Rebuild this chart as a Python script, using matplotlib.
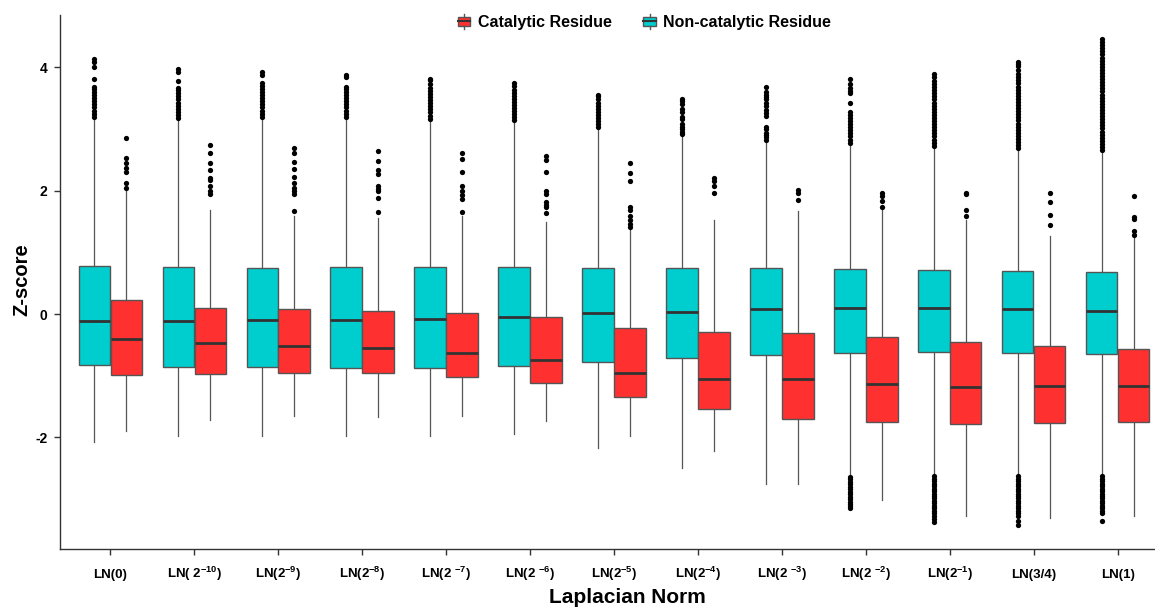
import matplotlib
matplotlib.use('Agg')
import matplotlib.pyplot as plt
from matplotlib.legend_handler import HandlerBase
from matplotlib.patches import Patch, Rectangle
from matplotlib.lines import Line2D

plt.rcParams['font.family'] = ['Liberation Sans', 'DejaVu Sans']
plt.rcParams['font.weight'] = 'bold'
plt.rcParams['mathtext.fontset'] = 'custom'
plt.rcParams['mathtext.rm'] = 'Liberation Sans:bold'
plt.rcParams['mathtext.bf'] = 'Liberation Sans:bold'
plt.rcParams['mathtext.default'] = 'bf'
plt.rcParams['axes.unicode_minus'] = False

# Data
labels = ['LN(0)', 'LN( 2$^{-10}$)', 'LN(2$^{-9}$)', 'LN(2$^{-8}$)', 'LN(2 $^{-7}$)',
          'LN(2 $^{-6}$)', 'LN(2$^{-5}$)', 'LN(2$^{-4}$)', 'LN(2 $^{-3}$)', 'LN(2 $^{-2}$)',
          'LN(2$^{-1}$)', 'LN(3/4)', 'LN(1)']

# non-catalytic residue (cyan)
nc_q3 = [0.78, 0.76, 0.75, 0.76, 0.76, 0.76, 0.75, 0.74, 0.74, 0.73, 0.72, 0.70, 0.69]
nc_med = [-0.12, -0.11, -0.10, -0.09, -0.08, -0.05, 0.01, 0.04, 0.08, 0.10, 0.10, 0.08, 0.05]
nc_q1 = [-0.82, -0.86, -0.86, -0.87, -0.87, -0.85, -0.77, -0.71, -0.66, -0.63, -0.62, -0.63, -0.64]
nc_lo = [-2.07, -1.98, -1.97, -1.98, -1.97, -1.95, -2.18, -2.49, -2.75, -2.60, -2.60, -2.60, -2.60]
nc_hi = [3.16, 3.14, 3.16, 3.16, 3.14, 3.11, 3.00, 2.89, 2.81, 2.75, 2.71, 2.67, 2.64]
nc_out = [
    [3.20, 3.25, 3.30, 3.35, 3.40, 3.45, 3.50, 3.55, 3.60, 3.65, 3.68, 3.82, 4.00, 4.09, 4.13],
    [3.18, 3.23, 3.28, 3.33, 3.38, 3.43, 3.48, 3.53, 3.58, 3.63, 3.67, 3.78, 3.92, 3.97],
    [3.20, 3.25, 3.30, 3.35, 3.40, 3.45, 3.50, 3.55, 3.60, 3.65, 3.70, 3.75, 3.88, 3.93],
    [3.20, 3.25, 3.30, 3.35, 3.40, 3.45, 3.50, 3.55, 3.60, 3.65, 3.68, 3.84, 3.87],
    [3.17, 3.22, 3.27, 3.32, 3.37, 3.42, 3.47, 3.52, 3.57, 3.62, 3.66, 3.73, 3.80, 3.82],
    [3.14, 3.19, 3.24, 3.29, 3.34, 3.39, 3.44, 3.49, 3.54, 3.59, 3.63, 3.70, 3.75],
    [3.03, 3.08, 3.13, 3.18, 3.23, 3.28, 3.33, 3.38, 3.43, 3.48, 3.53, 3.55],
    [2.92, 2.96, 3.00, 3.04, 3.08, 3.16, 3.20, 3.28, 3.32, 3.40, 3.45, 3.48],
    [2.83, 2.87, 2.90, 2.94, 3.00, 3.03, 3.21, 3.26, 3.31, 3.37, 3.42, 3.48, 3.52, 3.56, 3.60, 3.69],
    [2.78, 2.83, 2.88, 2.93, 2.98, 3.03, 3.08, 3.13, 3.18, 3.23, 3.27, 3.42, 3.58, 3.62, 3.66, 3.73, 3.82,
     -2.64, -2.68, -2.72, -2.76, -2.80, -2.84, -2.88, -2.92, -2.96, -3.00, -3.04, -3.08, -3.12, -3.14],
    [2.73, 2.78, 2.83, 2.88, 2.93, 2.98, 3.03, 3.08, 3.13, 3.18, 3.23, 3.28, 3.33, 3.38, 3.43, 3.48,
     3.53, 3.58, 3.63, 3.68, 3.73, 3.78, 3.84, 3.89,
     -2.63, -2.67, -2.71, -2.75, -2.79, -2.83, -2.87, -2.91, -2.95, -2.99, -3.03, -3.07, -3.11, -3.15,
     -3.19, -3.22, -3.28, -3.33, -3.38],
    [2.69, 2.74, 2.79, 2.84, 2.89, 2.94, 2.99, 3.04, 3.09, 3.14, 3.19, 3.24, 3.29, 3.34, 3.39, 3.44,
     3.49, 3.54, 3.59, 3.64, 3.69, 3.74, 3.79, 3.84, 3.90, 3.96, 4.02, 4.06, 4.09,
     -2.63, -2.67, -2.71, -2.75, -2.79, -2.83, -2.87, -2.91, -2.95, -2.99, -3.03, -3.07, -3.11, -3.15,
     -3.19, -3.22, -3.28, -3.36, -3.42],
    [2.66, 2.71, 2.76, 2.81, 2.86, 2.91, 2.96, 3.01, 3.06, 3.11, 3.16, 3.21, 3.26, 3.31, 3.36, 3.41,
     3.46, 3.51, 3.56, 3.61, 3.66, 3.71, 3.76, 3.81, 3.86, 3.91, 3.96, 4.01, 4.06, 4.11, 4.16, 4.21,
     4.26, 4.31, 4.36, 4.41, 4.46,
     -2.63, -2.67, -2.71, -2.75, -2.79, -2.83, -2.87, -2.91, -2.95, -2.99, -3.03, -3.07, -3.11, -3.15,
     -3.19, -3.22, -3.36],
]

# catalytic residue (red)
c_q3 = [0.23, 0.10, 0.09, 0.05, 0.02, -0.05, -0.23, -0.29, -0.31, -0.37, -0.45, -0.51, -0.57]
c_med = [-0.41, -0.47, -0.51, -0.55, -0.63, -0.74, -0.96, -1.05, -1.06, -1.14, -1.18, -1.17, -1.17]
c_q1 = [-0.99, -0.97, -0.96, -0.96, -1.02, -1.12, -1.35, -1.54, -1.70, -1.75, -1.79, -1.77, -1.75]
c_lo = [-1.90, -1.71, -1.66, -1.67, -1.66, -1.73, -1.98, -2.22, -2.75, -3.02, -3.27, -3.30, -3.28]
c_hi = [1.99, 1.69, 1.59, 1.56, 1.59, 1.50, 1.40, 1.53, 1.67, 1.69, 1.52, 1.27, 1.23]
c_out = [
    [2.05, 2.13, 2.30, 2.37, 2.45, 2.53, 2.86],
    [1.95, 1.99, 2.08, 2.18, 2.21, 2.34, 2.45, 2.62, 2.74],
    [1.67, 1.94, 1.99, 2.04, 2.12, 2.23, 2.35, 2.47, 2.62, 2.69],
    [1.66, 1.88, 1.99, 2.03, 2.07, 2.27, 2.34, 2.49, 2.65],
    [1.65, 1.86, 1.93, 2.00, 2.08, 2.30, 2.51, 2.62],
    [1.64, 1.73, 1.77, 1.81, 1.95, 2.00, 2.30, 2.50, 2.56],
    [1.42, 1.46, 1.53, 1.59, 1.68, 1.73, 2.16, 2.29, 2.45],
    [1.97, 2.08, 2.15, 2.20],
    [1.85, 1.97, 2.02],
    [1.74, 1.83, 1.91, 1.97],
    [1.59, 1.68, 1.94, 1.96],
    [1.44, 1.61, 1.81, 1.96],
    [1.29, 1.34, 1.54, 1.58, 1.92],
]

cyan = '#00CDCD'
red = '#FF3030'


def make_stats(q1, med, q3, lo, hi, out):
    return [dict(q1=q1[i], med=med[i], q3=q3[i], whislo=lo[i], whishi=hi[i], fliers=out[i])
            for i in range(len(q1))]


class BoxHandler(HandlerBase):
    def create_artists(self, legend, orig_handle, xdescent, ydescent, width, height, fontsize, trans):
        x0, y0 = -xdescent, -ydescent
        box = Rectangle((x0, y0 + 0.15 * height), width, 0.7 * height,
                        facecolor=orig_handle.get_facecolor(), edgecolor='#555555', lw=1, transform=trans)
        med = Line2D([x0, x0 + width], [y0 + 0.5 * height] * 2, color='#333333', lw=1.5, transform=trans)
        w1 = Line2D([x0 + width / 2] * 2, [y0 - 0.1 * height, y0 + 0.15 * height], color='#555555', lw=1, transform=trans)
        w2 = Line2D([x0 + width / 2] * 2, [y0 + 0.85 * height, y0 + 1.1 * height], color='#555555', lw=1, transform=trans)
        return [box, med, w1, w2]


fig = plt.figure(figsize=(11.55, 6.09), dpi=100)
ax = fig.add_axes([60 / 1155, 60 / 609, 1108 / 1155, 534 / 609])

pos = list(range(1, len(labels) + 1))
common = dict(widths=0.375, patch_artist=True, showcaps=False,
              medianprops=dict(color='#333333', linewidth=2),
              whiskerprops=dict(color='#555555', linewidth=0.9),
              flierprops=dict(marker='o', markersize=3.8, markerfacecolor='black',
                              markeredgecolor='none'))
ax.bxp(make_stats(nc_q1, nc_med, nc_q3, nc_lo, nc_hi, nc_out), positions=[p - 0.19 for p in pos],
       boxprops=dict(facecolor=cyan, edgecolor='#555555', linewidth=1), **common)
ax.bxp(make_stats(c_q1, c_med, c_q3, c_lo, c_hi, c_out), positions=[p + 0.19 for p in pos],
       boxprops=dict(facecolor=red, edgecolor='#555555', linewidth=1), **common)

ax.set_xlim(0.4, 13.6)
ax.set_ylim(-3.81, 4.85)
ax.set_xticks(pos)
ax.set_xticklabels(labels, fontsize=9.5, fontweight='bold', va='baseline')
ax.set_yticks([-2, 0, 2, 4])
ax.set_yticklabels(['-2', '0', '2', '4'], fontsize=10, fontweight='bold')
ax.tick_params(axis='x', length=4, width=1, color='#333333', pad=17)
ax.tick_params(axis='y', length=4, width=1, color='#333333', pad=5)
for s in ['top', 'right']:
    ax.spines[s].set_visible(False)
for s in ['left', 'bottom']:
    ax.spines[s].set_color('#333333')
    ax.spines[s].set_linewidth(1)

ax.set_xlabel('Laplacian Norm', fontsize=15, fontweight='bold', va='center')
ax.xaxis.set_label_coords(0.512, -0.0899)
ax.set_ylabel('Z-score', fontsize=14.5, fontweight='bold', va='center')
ax.yaxis.set_label_coords(-0.0343, 0.504)

handles = [Patch(facecolor=red, label='Catalytic Residue'),
           Patch(facecolor=cyan, label='Non-catalytic Residue')]
fig.legend(handles=handles, loc='center', bbox_to_anchor=(0.558, 0.963), ncol=2, frameon=False,
           prop=dict(size=11.5, weight='bold'), handlelength=0.8, handleheight=0.8,
           handletextpad=0.45, columnspacing=2.0,
           handler_map={Patch: BoxHandler()})

fig.savefig('out.png', dpi=100)
